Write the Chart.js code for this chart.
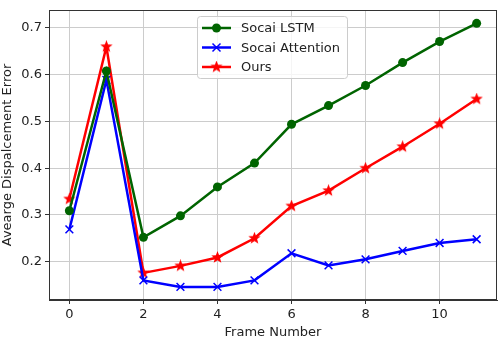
<!DOCTYPE html>
<html lang="en">
<head>
  <meta charset="UTF-8" />
  <title>Average Displacement Error</title>
  <script src="https://cdn.jsdelivr.net/npm/chart.js"></script>
  <style>
    html, body { margin: 0; padding: 0; background: #fff; }
    #wrap { width: 499px; height: 340px; }
  </style>
</head>
<body>
  <div id="wrap"><canvas id="adeChart" width="499" height="340"></canvas></div>

  <script>
    const frames = [0, 1, 2, 3, 4, 5, 6, 7, 8, 9, 10, 11];
    const lstmVals = [0.309, 0.608, 0.252, 0.298, 0.360, 0.411, 0.494, 0.534, 0.577, 0.626, 0.671, 0.710];
    const attnVals = [0.269, 0.589, 0.160, 0.146, 0.146, 0.160, 0.218, 0.192, 0.205, 0.223, 0.240, 0.248];
    const oursVals = [0.334, 0.660, 0.176, 0.191, 0.209, 0.250, 0.319, 0.352, 0.400, 0.446, 0.495, 0.548];
    const xTicks = [0, 2, 4, 6, 8, 10];
    const yTicks = [0.2, 0.3, 0.4, 0.5, 0.6, 0.7];
    const seriesNames = ['Socai LSTM', 'Socai Attention', 'Ours'];

    const FONT = 'DejaVu Sans';

    // filled five point star like matplotlib's '*'
    function starMarker(size, color) {
      const c = document.createElement('canvas');
      c.width = size; c.height = size;
      const g = c.getContext('2d');
      const cx = size / 2, cy = size / 2, R = size / 2, r = R * 0.42;
      g.beginPath();
      for (let i = 0; i < 10; i++) {
        const rad = i % 2 === 0 ? R : r;
        const a = -Math.PI / 2 + i * Math.PI / 5;
        g.lineTo(cx + rad * Math.cos(a), cy + rad * Math.sin(a));
      }
      g.closePath();
      g.fillStyle = color;
      g.fill();
      return c;
    }
    const star = starMarker(13, '#ff0000');

    const toPts = vals => vals.map((v, i) => ({ x: frames[i], y: v }));

    const boxAndLegend = {
      id: 'boxAndLegend',
      afterDatasetsDraw(chart) {
        const { ctx, chartArea: a } = chart;
        ctx.save();
        ctx.strokeStyle = '#333';
        ctx.lineWidth = 1;
        ctx.strokeRect(a.left + 0.5, a.top + 0.5, a.right - a.left - 1, a.bottom - a.top - 1);

        // legend box
        const bx = 197.5, by = 16.5, bw = 150, bh = 62;
        ctx.beginPath();
        ctx.roundRect(bx, by, bw, bh, 3);
        ctx.fillStyle = 'rgba(255,255,255,0.8)';
        ctx.fill();
        ctx.strokeStyle = '#cccccc';
        ctx.stroke();

        ctx.font = '13px "' + FONT + '"';
        ctx.textBaseline = 'middle';
        chart.data.datasets.forEach((ds, i) => {
          const yy = 28 + i * 19.5;
          ctx.strokeStyle = ds.borderColor;
          ctx.lineWidth = 2.5;
          ctx.beginPath();
          ctx.moveTo(202, yy);
          ctx.lineTo(231, yy);
          ctx.stroke();
          const mx = 216.5;
          if (i === 0) {
            ctx.fillStyle = ds.borderColor;
            ctx.beginPath();
            ctx.arc(mx, yy, 4.5, 0, Math.PI * 2);
            ctx.fill();
          } else if (i === 1) {
            ctx.lineWidth = 1.5;
            ctx.beginPath();
            ctx.moveTo(mx - 4, yy - 4); ctx.lineTo(mx + 4, yy + 4);
            ctx.moveTo(mx + 4, yy - 4); ctx.lineTo(mx - 4, yy + 4);
            ctx.stroke();
          } else {
            ctx.drawImage(star, mx - 6.5, yy - 6.5);
          }
          ctx.fillStyle = '#222';
          ctx.fillText(ds.label, 241, yy + 1);
        });
        ctx.restore();
      }
    };

    new Chart(document.getElementById('adeChart'), {
      type: 'line',
      data: {
        datasets: [
          {
            label: seriesNames[0],
            data: toPts(lstmVals),
            borderColor: '#006400',
            backgroundColor: '#006400',
            borderWidth: 2.5,
            pointStyle: 'circle',
            pointRadius: 4.5,
            pointBorderWidth: 0,
            tension: 0
          },
          {
            label: seriesNames[1],
            data: toPts(attnVals),
            borderColor: '#0000ff',
            backgroundColor: '#0000ff',
            borderWidth: 2.5,
            pointStyle: 'crossRot',
            pointRadius: 5.5,
            pointBorderWidth: 1.5,
            tension: 0
          },
          {
            label: seriesNames[2],
            data: toPts(oursVals),
            borderColor: '#ff0000',
            backgroundColor: '#ff0000',
            borderWidth: 2.5,
            pointStyle: star,
            pointRadius: 6,
            tension: 0
          }
        ]
      },
      options: {
        responsive: false,
        animation: false,
        events: [],
        layout: { autoPadding: false, padding: { top: 10, right: 2, left: 0, bottom: 0 } },
        plugins: {
          legend: { display: false },
          tooltip: { enabled: false }
        },
        scales: {
          x: {
            type: 'linear',
            min: -0.55,
            max: 11.55,
            afterBuildTicks: s => { s.ticks = xTicks.map(v => ({ value: v })); },
            afterFit: s => { s.height = 40; s.paddingLeft = 0; s.paddingRight = 0; },
            grid: { color: '#cccccc', tickColor: '#333', tickLength: 4, lineWidth: 1 },
            border: { color: '#333', width: 1 },
            ticks: { color: '#222', font: { family: FONT, size: 13 }, padding: 3, maxRotation: 0 },
            title: { display: true, text: 'Frame Number', color: '#222', font: { family: FONT, size: 13 }, padding: { top: 0, bottom: 0 } }
          },
          y: {
            min: 0.118,
            max: 0.7385,
            afterBuildTicks: s => { s.ticks = yTicks.map(v => ({ value: v })); },
            afterFit: s => { s.width = 49; s.paddingTop = 0; s.paddingBottom = 0; },
            grid: { color: '#cccccc', tickColor: '#333', tickLength: 4, lineWidth: 1 },
            border: { color: '#333', width: 1 },
            ticks: {
              color: '#222',
              font: { family: FONT, size: 13 },
              padding: 3,
              callback: v => v.toFixed(1)
            },
            title: { display: true, text: 'Avearge Dispalcement Error', color: '#222', font: { family: FONT, size: 13 }, padding: { top: 0, bottom: 2 } }
          }
        }
      },
      plugins: [boxAndLegend]
    });
  </script>
</body>
</html>
